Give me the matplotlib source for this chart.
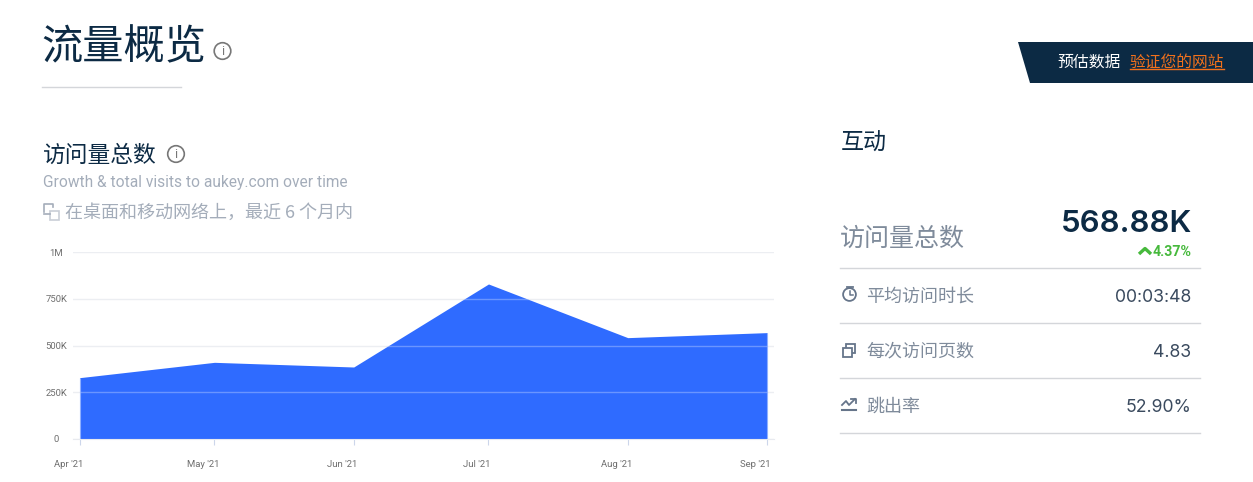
import matplotlib
matplotlib.use('Agg')
import matplotlib.pyplot as plt
import matplotlib.dates as mdates
from matplotlib.patches import Circle, Polygon, Rectangle
from matplotlib.transforms import ScaledTranslation
import numpy as np

plt.rcParams['font.family'] = ['Noto Sans CJK SC', 'DejaVu Sans']

months = ['2021-04-01', '2021-05-01', '2021-06-01', '2021-07-01', '2021-08-01', '2021-09-01']
month_labels = ["Apr '21", "May '21", "Jun '21", "Jul '21", "Aug '21", "Sep '21"]
visits = [328000, 410000, 385000, 829000, 542000, 568880]
y_ticks = [0, 250000, 500000, 750000, 1000000]
y_labels = ['0', '250K', '500K', '750K', '1M']

row_names = ['平均访问时长', '每次访问页数', '跳出率']
row_values = ['00:03:48', '4.83', '52.90%']

W, H = 1253, 482
navy = '#0c2a44'
grey = '#a4adba'
mid = '#7f8b9b'
BLUE = '#2f6bff'

fig = plt.figure(figsize=(W / 100, H / 100), dpi=100, facecolor='white')

# overlay in pixel coordinates for the page parts around the chart
pg = fig.add_axes([0, 0, 1, 1])
pg.set_xlim(0, W)
pg.set_ylim(H, 0)
pg.axis('off')

# chart, axes box placed on the pixel positions of the plot area
left, right, top, bottom = 73, 774, 252, 439
ax = fig.add_axes([left / W, 1 - bottom / H, (right - left) / W, (bottom - top) / H])
ax.patch.set_alpha(0)
dates = mdates.date2num(np.array(months, dtype='datetime64[D]'))
px_per_day = (767 - 79.7) / (dates[-1] - dates[0])
ax.set_xlim(dates[0] - (79.7 - left) / px_per_day, dates[-1] + (right - 767) / px_per_day)
ax.set_ylim(0, 1000000)
area = ax.fill_between(dates, visits, 0, color=BLUE, lw=0, zorder=2)
ax.vlines([dates[0], dates[-1]], 0, [visits[0], visits[-1]], color='#8fb0ff', lw=0.8, zorder=2)
ax.set_yticks(y_ticks, y_labels)
ax.set_xticks(dates, month_labels)
ax.grid(axis='y', color='#eceef2', lw=1, zorder=1)
ax.set_axisbelow(True)
# grid shows faintly through the area
faint = ax.hlines(y_ticks[1:4], dates[0], dates[-1], color='#c5d5ff', lw=1, alpha=0.4, zorder=3)
faint.set_clip_path(area.get_paths()[0], area.get_transform())
for s in ['top', 'right', 'left']:
    ax.spines[s].set_visible(False)
ax.spines['bottom'].set_color('#e8eaef')
ax.spines['bottom'].set_linewidth(0.8)
ax.tick_params(axis='y', length=0, pad=12, labelsize=6.8, labelcolor='#6e6e6e')
ax.tick_params(axis='x', length=4, width=0.8, color='#ccd6eb', pad=11, labelsize=6.8, labelcolor='#6e6e6e')
# the month labels sit left of their ticks in the original
shift = ScaledTranslation(-11.5 / 100, 0, fig.dpi_scale_trans)
for lb in ax.get_xticklabels():
    lb.set_family('Roboto')
    lb.set_transform(lb.get_transform() + shift)
for lb in ax.get_yticklabels():
    lb.set_family('Roboto')
    lb.set_ha('center')


def info_icon(x, y):
    pg.add_patch(Circle((x, y), 8.3, fill=False, ec='#777777', lw=1.2))
    pg.text(x, y + 0.3, 'i', fontsize=9, color='#777777', ha='center', va='center', family='Roboto')


# headings on the left
pg.text(41, 47.5, '流量概览', fontsize=29.7, color=navy, va='center', weight='light')
info_icon(222.5, 51)
pg.plot([42, 181], [86.5, 86.5], color='#d4d6da', lw=1)
pg.text(43, 155, '访问量总数', fontsize=16.4, color=navy, va='center', weight='light')
info_icon(176, 154)
pg.text(43, 182, 'Growth & total visits to aukey.com over time', fontsize=11.2, color=grey,
        va='center', family='Roboto')
pg.text(65, 212.5, '在桌面和移动网络上，最近 6 个月内', fontsize=13, color=grey, va='center')
pg.add_patch(Rectangle((50, 211), 9, 9, fill=False, ec='#c9ced7', lw=1.2))
pg.plot([44, 44, 53, 53], [212, 204, 204, 207], color='#a4adba', lw=1.2)
pg.plot([44, 50], [214, 214], color='#a4adba', lw=1.2)

# banner
pg.add_patch(Polygon([(1018, 42), (1253, 42), (1253, 83), (1030, 83)], fc=navy, ec='none'))
pg.text(1057, 62, '预估数据', fontsize=11.4, color='white', va='center', weight='medium')
pg.text(1130, 62, '验证您的网站', fontsize=11.3, color='#f2711c', va='center')
pg.plot([1130, 1224], [69, 69], color='#f2711c', lw=1)

# engagement panel
pg.text(841, 143, '互动', fontsize=16.6, color=navy, va='center', weight='light')
pg.text(840, 238.5, '访问量总数', fontsize=18, color=mid, va='center', weight='light')
pg.text(1192, 224.5, '568.88K', fontsize=22.4, color=navy, va='center', ha='right', family='Inter', weight='semibold')
pg.text(1191.5, 251.5, '4.37%', fontsize=10.2, color='#46b93c', va='center', ha='right', family='Roboto', weight='bold')
pg.plot([1139, 1145, 1151], [254, 248.5, 254], color='#46b93c', lw=2.4, solid_capstyle='butt')

row_y = [296, 351, 406]
for name, val, y in zip(row_names, row_values, row_y):
    pg.text(866.5, y + 0.5, name, fontsize=13, color=mid, va='center', weight='light')
    pg.text(1191.5, y + 1.5, val, fontsize=12.7, color='#3a4a5e', va='center', ha='right', family='Inter')
for y in [268, 323, 378, 433]:
    pg.plot([840, 1199.5], [y, y], color='#d4d6da', lw=1)

# row icons
ic = '#66758a'
pg.add_patch(Circle((849.5, 294.5), 6.4, fill=False, ec=ic, lw=1.3))
pg.plot([849.5, 849.5, 853], [291, 295, 295], color=ic, lw=1.1)
pg.plot([846.5, 852.5], [286.5, 286.5], color=ic, lw=1.3)
pg.add_patch(Rectangle((846, 344), 9, 9, fc='none', ec=ic, lw=1.3))
pg.add_patch(Rectangle((842.5, 348), 9, 9, fc='white', ec=ic, lw=1.3))
pg.plot([842, 856], [410, 410], color=ic, lw=1.5)
pg.plot([842, 846, 849, 855], [405, 401, 405, 399], color=ic, lw=1.3)
pg.plot([851, 855.5, 855.5], [398.5, 398.5, 403], color=ic, lw=1.3)

fig.savefig('out.png', dpi=100)
